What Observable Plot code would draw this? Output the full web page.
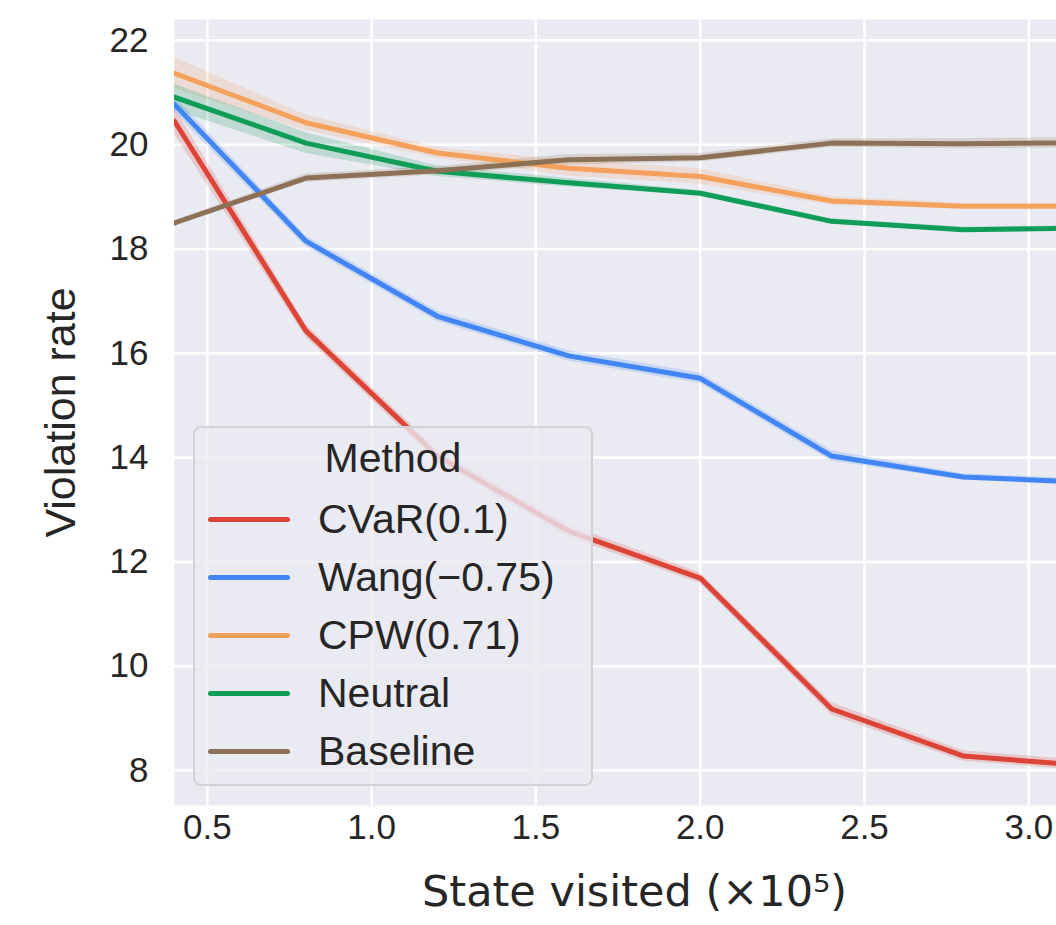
<!DOCTYPE html>
<html>
<head>
<meta charset="utf-8">
<script src="https://cdn.jsdelivr.net/npm/d3@7"></script>
<script src="https://cdn.jsdelivr.net/npm/@observablehq/plot@0.6"></script>
<style>
  html, body { margin: 0; padding: 0; background: #ffffff; }
  #wrap { position: relative; width: 1056px; height: 925px; overflow: hidden; }
  #wrap svg { font-family: "Liberation Sans", Arial, sans-serif; color: #262626; max-width: none !important; width: 1094px !important; height: 925px !important; }
  #wrap svg [aria-label="y-axis label"] { font-size: 43px; }
  #wrap svg [aria-label="x-axis label"] { font-size: 43px; font-family: "DejaVu Sans", sans-serif; }
  #legend { position: absolute; left: 193px; top: 426px; width: 396px; height: 356px;
    background: rgba(234,234,242,0.8); border: 2px solid #d2d2d6; border-radius: 8px;
    font-family: "Liberation Sans", Arial, sans-serif; color: #262626; }
  #legend .title { position: absolute; left: 0; width: 100%; text-align: center; font-size: 41px; line-height: 1; }
  #legend .item { position: absolute; left: 0; height: 0; }
  #legend .sw { position: absolute; left: 13px; width: 82px; height: 5px; border-radius: 3px; top: -2.5px; }
  #legend .lab { position: absolute; left: 123px; top: -21px; font-size: 41px; line-height: 42px; white-space: nowrap; }
</style>
</head>
<body>
<div id="wrap"></div>
<script>
// x values: states visited (x10^5)
const xs = [0.4, 0.8, 1.2, 1.6, 2.0, 2.4, 2.8, 3.2];
const methods = ["CVaR(0.1)", "Wang(\u22120.75)", "CPW(0.71)", "Neutral", "Baseline"];
const colors = ["#db4437", "#4285f4", "#f4a15d", "#0f9d58", "#8d7157"];

// mean violation rate per method
const cvarMean     = [20.45, 16.43, 14.03, 12.59, 11.69, 9.18, 8.28, 8.08];
const wangMean     = [20.77, 18.15, 16.71, 15.95, 15.52, 14.03, 13.63, 13.52];
const cpwMean      = [21.37, 20.42, 19.84, 19.55, 19.39, 18.92, 18.82, 18.82];
const neutralMean  = [20.91, 20.03, 19.49, 19.27, 19.07, 18.53, 18.37, 18.40];
const baselineMean = [18.50, 19.36, 19.50, 19.71, 19.75, 20.03, 20.02, 20.04];

// confidence half-widths
const cvarCI     = [0.25, 0.12, 0.12, 0.12, 0.10, 0.12, 0.10, 0.10];
const wangCI     = [0.15, 0.10, 0.10, 0.10, 0.10, 0.10, 0.06, 0.06];
const cpwCI      = [0.30, 0.15, 0.10, 0.15, 0.15, 0.08, 0.06, 0.06];
const neutralCI  = [0.25, 0.20, 0.10, 0.08, 0.05, 0.05, 0.05, 0.05];
const baselineCI = [0.04, 0.08, 0.08, 0.10, 0.08, 0.08, 0.10, 0.10];

const xTicks = [0.5, 1.0, 1.5, 2.0, 2.5, 3.0];
const yTicks = [8, 10, 12, 14, 16, 18, 20, 22];

const means = [cvarMean, wangMean, cpwMean, neutralMean, baselineMean];
const cis = [cvarCI, wangCI, cpwCI, neutralCI, baselineCI];
const rows = [];
methods.forEach((m, i) => {
  xs.forEach((x, j) => {
    rows.push({method: m, x, y: means[i][j], lo: means[i][j] - cis[i][j], hi: means[i][j] + cis[i][j]});
  });
});

const chart = Plot.plot({
  width: 1094,
  height: 925,
  marginLeft: 174,
  marginRight: 0,
  marginTop: 19,
  marginBottom: 120,
  x: {domain: [0.4, 3.2]},
  y: {domain: [7.33, 22.40]},
  color: {domain: methods, range: colors},
  marks: [
    Plot.frame({fill: "#eaeaf2", stroke: null}),
    Plot.gridX(xTicks, {stroke: "#ffffff", strokeOpacity: 1, strokeWidth: 2.5}),
    Plot.gridY(yTicks, {stroke: "#ffffff", strokeOpacity: 1, strokeWidth: 2.5}),
    Plot.areaY(rows, {x: "x", y1: "lo", y2: "hi", z: "method", fill: "method", fillOpacity: 0.2, clip: true}),
    Plot.line(rows, {x: "x", y: "y", z: "method", stroke: "method", strokeWidth: 5, clip: true}),
    Plot.axisX(xTicks, {tickSize: 0, tickPadding: 9, fontSize: 35, tickFormat: d3.format(".1f"),
      label: "State visited (\u00d710\u2075)", labelAnchor: "center", labelArrow: "none", labelOffset: 100, fill: "#262626"}),
    Plot.axisY(yTicks, {tickSize: 0, tickPadding: 26, fontSize: 35, tickFormat: d3.format("d"),
      label: "Violation rate", labelAnchor: "center", labelArrow: "none", labelOffset: 130, fill: "#262626"})
  ]
});
document.getElementById("wrap").appendChild(chart);

// legend
const lg = document.createElement("div");
lg.id = "legend";
const t = document.createElement("div");
t.className = "title";
t.textContent = "Method";
t.style.top = "10px";
lg.appendChild(t);
methods.forEach((m, i) => {
  const it = document.createElement("div");
  it.className = "item";
  it.style.top = (91 + i * 58) + "px";
  const sw = document.createElement("div");
  sw.className = "sw";
  sw.style.background = colors[i];
  const lab = document.createElement("div");
  lab.className = "lab";
  lab.textContent = m;
  it.appendChild(sw);
  it.appendChild(lab);
  lg.appendChild(it);
});
document.getElementById("wrap").appendChild(lg);
</script>
</body>
</html>
